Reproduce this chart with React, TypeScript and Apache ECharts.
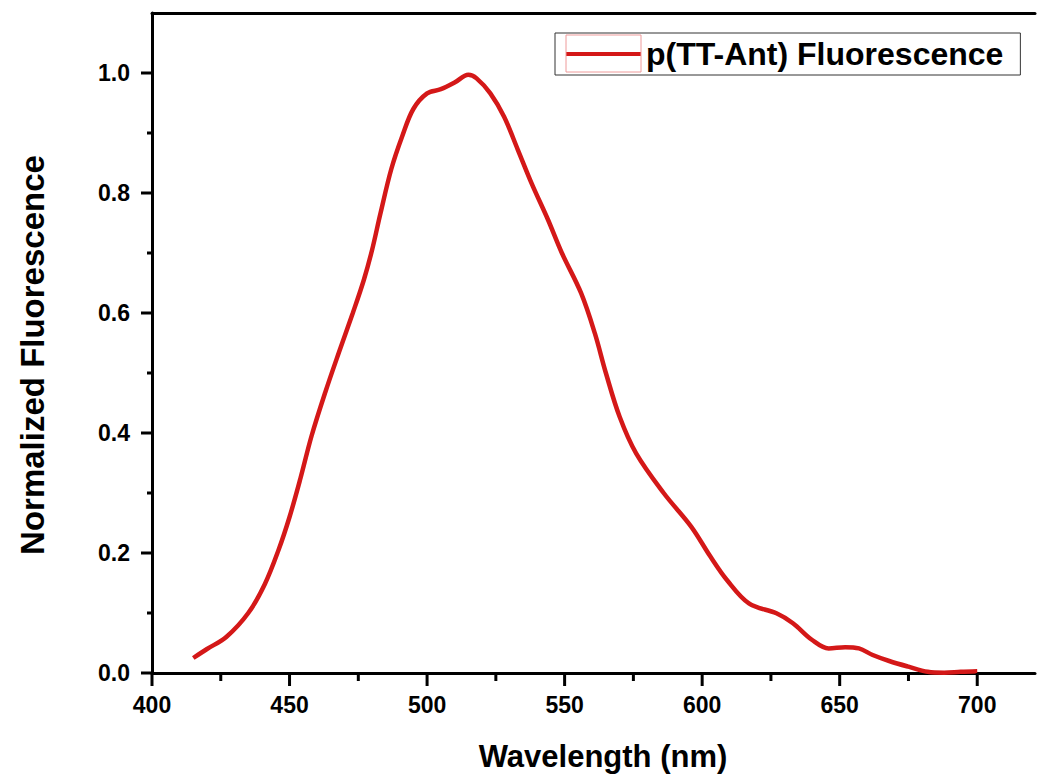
import React, { useEffect, useRef } from "react";
import * as echarts from "echarts";

const wavelengths = [415, 420, 427, 435, 441, 446, 450, 454, 458, 463, 468, 473, 477, 480, 483, 487, 491, 495, 500, 505, 510, 515, 518, 523, 528, 533, 538, 544, 549, 556, 561, 565, 570, 576, 586, 596, 603, 609, 617, 627, 633, 640, 646, 652, 657, 662, 668, 675, 682, 688, 694, 700];
const fluorescence = [0.025, 0.04, 0.06, 0.1, 0.148, 0.205, 0.26, 0.325, 0.395, 0.468, 0.535, 0.6, 0.655, 0.705, 0.765, 0.84, 0.895, 0.94, 0.966, 0.973, 0.984, 0.997, 0.991, 0.966, 0.927, 0.872, 0.816, 0.755, 0.7, 0.633, 0.566, 0.5, 0.427, 0.366, 0.3, 0.244, 0.194, 0.155, 0.116, 0.0995, 0.083, 0.055, 0.041, 0.043, 0.041, 0.03, 0.02, 0.0105, 0.002, 0.0005, 0.002, 0.003];
const xMajorTicks = [400, 450, 500, 550, 600, 650, 700];
const xMinorTicks = [425, 475, 525, 575, 625, 675];
const yMajorTicks = [0, 0.2, 0.4, 0.6, 0.8, 1.0];
const yMinorTicks = [0.1, 0.3, 0.5, 0.7, 0.9];
const seriesName = "p(TT-Ant) Fluorescence";
const xTitle = "Wavelength (nm)";
const yTitle = "Normalized Fluorescence";

const FONT = "'Liberation Sans', Arial, sans-serif";
const RED = "#d41818";
const ls = () => ({ color: "#000", width: 3 });
const X_MIN = 400;
const Y_MIN = 0;

const tickSeries = (values: number[], dir: "x" | "y", len: number) => ({
  type: "custom",
  xAxisIndex: 0,
  yAxisIndex: 0,
  silent: true,
  clip: false,
  z: 5,
  data: values.map((v) => [v]),
  renderItem: (_params: any, api: any) => {
    const v = api.value(0);
    if (dir === "x") {
      const p = api.coord([v, Y_MIN]);
      return {
        type: "line",
        shape: { x1: p[0], y1: p[1], x2: p[0], y2: p[1] + len },
        style: { stroke: "#000", lineWidth: 3 },
      };
    }
    const p = api.coord([X_MIN, v]);
    return {
      type: "line",
      shape: { x1: p[0], y1: p[1], x2: p[0] - len, y2: p[1] },
      style: { stroke: "#000", lineWidth: 3 },
    };
  },
});

export default function App() {
  const ref = useRef<HTMLDivElement>(null);
  useEffect(() => {
    if (!ref.current) return;
    const chart = echarts.init(ref.current, null, { renderer: "svg" });
    const data = wavelengths.map((w, i) => [w, fluorescence[i]]);
    const gridBox = { left: 152, right: -3, bottom: 104, containLabel: false };
    chart.setOption({
      animation: false,
      backgroundColor: "#fff",
      grid: [
        { ...gridBox, top: 13 },
        { ...gridBox, top: 73 },
      ],
      legend: {
        show: true,
        data: [seriesName],
        left: 555,
        top: 33,
        orient: "horizontal",
        padding: [5, 17, 5, 11],
        borderColor: "#333",
        borderWidth: 1,
        itemWidth: 75,
        itemHeight: 4,
        icon: "rect",
        itemStyle: { color: RED },
        textStyle: { fontFamily: FONT, fontWeight: "bold", fontSize: 32, color: "#000" },
        selectedMode: false,
      },
      xAxis: [
        {
          gridIndex: 0,
          type: "value",
          min: X_MIN,
          max: 721,
          interval: 50,
          position: "bottom",
          axisLine: { show: true, onZero: false, lineStyle: ls() },
          axisTick: { show: false },
          axisLabel: {
            margin: 20,
            fontFamily: FONT,
            fontWeight: "bold",
            fontSize: 23,
            color: "#000",
            formatter: (v: number) => (xMajorTicks.indexOf(v) >= 0 ? String(v) : ""),
          },
          splitLine: { show: false },
        },
        {
          gridIndex: 0,
          type: "value",
          min: X_MIN,
          max: 721,
          position: "top",
          axisLine: { show: true, onZero: false, lineStyle: ls() },
          axisTick: { show: false },
          axisLabel: { show: false },
          splitLine: { show: false },
        },
        {
          gridIndex: 1,
          type: "value",
          min: X_MIN,
          max: 721,
          show: false,
        },
      ],
      yAxis: [
        {
          gridIndex: 0,
          type: "value",
          min: Y_MIN,
          max: 1.1,
          axisLine: { show: true, onZero: false, lineStyle: ls() },
          axisTick: { show: false },
          axisLabel: { show: false },
          splitLine: { show: false },
        },
        {
          gridIndex: 1,
          type: "value",
          min: Y_MIN,
          max: 1.0,
          interval: 0.2,
          axisLine: { show: false, onZero: false },
          axisTick: { show: false },
          axisLabel: {
            margin: 22,
            fontFamily: FONT,
            fontWeight: "bold",
            fontSize: 23,
            color: "#000",
            formatter: (v: number) => v.toFixed(1),
          },
          splitLine: { show: false },
        },
      ],
      graphic: [
        {
          type: "rect",
          shape: { x: 566, y: 35, width: 75, height: 37 },
          style: { fill: "none", stroke: "#ee9a9a", lineWidth: 1 },
          z: 100,
        },
        {
          type: "text",
          x: 603,
          y: 756,
          style: { text: xTitle, fontFamily: FONT, fontWeight: "bold", fontSize: 31, fill: "#000", align: "center", verticalAlign: "middle" },
        },
        {
          type: "text",
          x: 32,
          y: 355,
          rotation: Math.PI / 2,
          style: { text: yTitle, fontFamily: FONT, fontWeight: "bold", fontSize: 33, fill: "#000", align: "center", verticalAlign: "middle" },
        },
      ],
      series: [
        {
          name: seriesName,
          type: "line",
          xAxisIndex: 0,
          yAxisIndex: 0,
          data,
          smooth: 0.35,
          showSymbol: false,
          symbol: "none",
          lineStyle: { color: RED, width: 4.5 },
          itemStyle: { color: RED },
        },
        tickSeries(xMajorTicks, "x", 13),
        tickSeries(xMinorTicks, "x", 8),
        tickSeries(yMajorTicks, "y", 11),
        tickSeries(yMinorTicks, "y", 5),
      ],
    });
    return () => chart.dispose();
  }, []);
  return <div ref={ref} style={{ position: "absolute", left: 0, top: 0, width: 1038, height: 777 }} />;
}
